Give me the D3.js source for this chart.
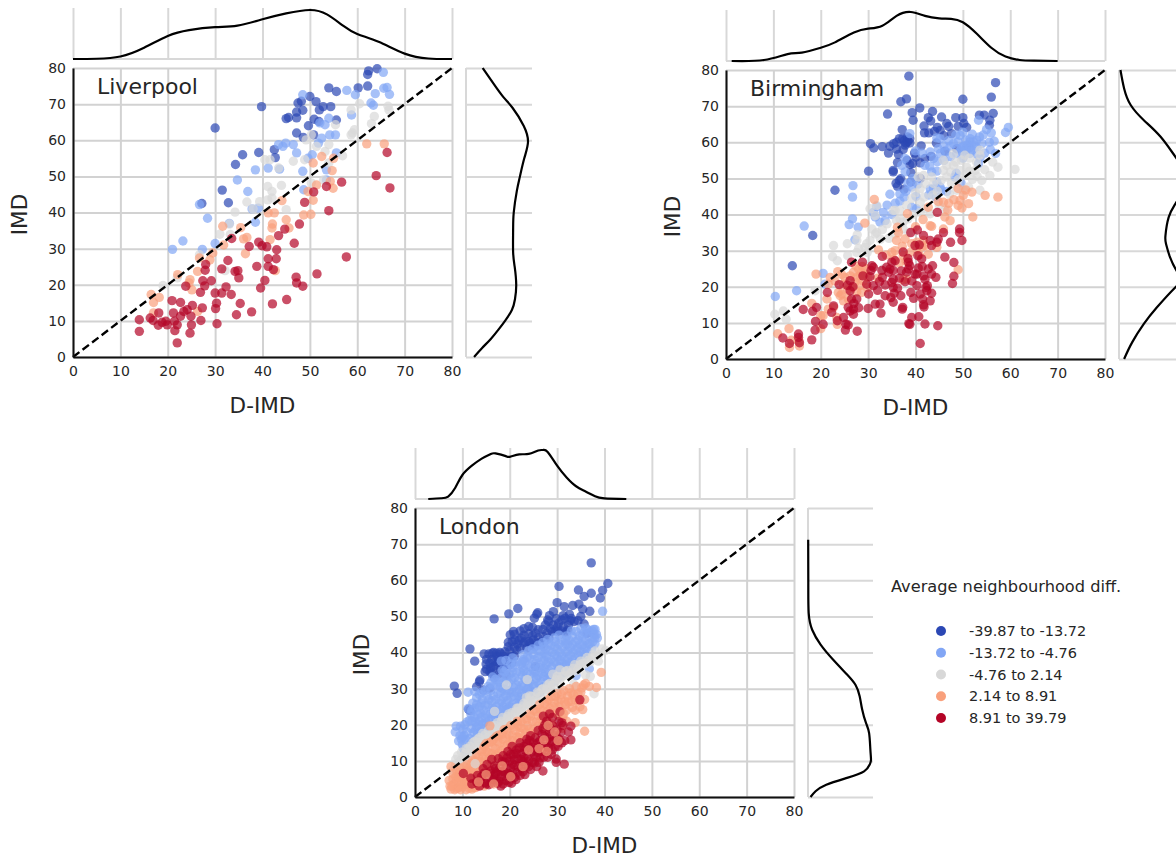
<!DOCTYPE html>
<html>
<head>
<meta charset="utf-8">
<script src="https://cdn.jsdelivr.net/npm/d3@7/dist/d3.min.js"></script>
<style>
html, body { margin: 0; padding: 0; background: #fff; overflow: hidden; }
text { font-family: "DejaVu Sans", sans-serif; fill: #262626; }
</style>
</head>
<body>
<svg width="1176" height="854"></svg>
<script>
const ticks = [0, 10, 20, 30, 40, 50, 60, 70, 80]
const classLabels = ['-39.87 to -13.72', '-13.72 to -4.76', '-4.76 to 2.14', '2.14 to 8.91', '8.91 to 39.79']
const classColors = ['#2b47b4', '#82a6f5', '#d8d8d8', '#f9a07c', '#b40426']

// [D-IMD, IMD]
const liverpoolBlue = [[30,63.4],[39.8,69.3],[27.2,42.5],[31.5,46.2],[32.8,42.7],[34.3,53.3],[35.8,56],[39.2,56.6],[42.7,55.2],[42.5,57.4],[45,66],[45.5,66.3],[47.2,66.2],[47.2,67.8],[48.5,68.3],[47.5,70.3],[48.2,70.8],[50,72.1],[51.3,70.7],[52,68.4],[52.8,69.3],[54.4,69.3],[54,74.5],[55.6,73.5],[50.9,65.8],[51.9,65.2],[55.6,65.6],[49.7,64],[47.2,62],[48.6,60.8],[50.8,61.5],[60.2,74.5],[62.2,75],[62.2,78.2],[62.4,79.2],[64.2,79.8]]
const liverpoolLight = [[21,29.8],[23.2,32.1],[27.3,29.8],[30,31.4],[26.7,42.2],[28.4,38.4],[38.5,37.3],[37.8,41],[39.1,41.2],[33,37],[34.7,49],[36.9,45.8],[38.5,51.8],[41.2,52.3],[43.6,52],[47.2,56.5],[46.5,58.8],[44.9,59.2],[43.4,58.8],[44.3,58.3],[48.5,72.6],[48.5,51.4],[48.7,46.3],[53.5,51.8],[53.5,49],[50.5,56],[49.6,55],[51.8,59.2],[52.5,60.6],[54.2,61.5],[55.4,61.5],[55.6,56.5],[54,66.1],[53.2,64.3],[52.1,64.8],[57.8,73.8],[59.6,72.6],[58.8,67],[62.9,70.3],[63.4,69.7],[63.8,72.9],[65.5,78.8],[65.6,74.4],[66.3,74.6],[66.8,72.7]]
const liverpoolGray = [[19,19.8],[22,21.9],[32.1,23.9],[31,34],[33,36.8],[33.2,33.9],[34.2,40.1],[36.7,42.9],[38,41],[39.4,43],[41.1,43.5],[42,44],[41.1,47.2],[42,45.8],[44,47.5],[45,40.8],[40.5,54.6],[41.6,54.6],[43.4,52.3],[46.5,54.2],[48.9,54.6],[50.3,48.2],[52.9,49],[54,53.7],[53.2,56.9],[54,58.8],[51.4,58.3],[50.3,61.5],[49.2,60.1],[55.4,64.3],[56.9,55.7],[58.7,68.4],[60.5,70.1],[59,62],[59.4,62.9],[58.7,61.5],[63,64.6],[63.6,66.6],[66.5,69.4],[66.7,68.4],[26.7,28.3]]
const liverpoolOrange = [[16.5,17.3],[17,15.1],[18.2,16.5],[17,12.2],[22.1,22.8],[24.7,21.4],[24.5,20.5],[25.1,18.6],[26.3,23.7],[26.7,27.4],[28.9,26.9],[29.5,28.8],[31.8,31],[31.6,36.2],[35.4,35.8],[36,32.7],[36.7,33.1],[36.4,28.6],[41.2,39.9],[42.5,39.9],[42.1,36.8],[42,35.7],[41.6,32.5],[42.7,23.9],[45,38],[45.6,35.7],[48.7,39.3],[50.2,39.5],[49.6,45.8],[50.7,43.4],[51.4,47.6],[54.3,48.6],[54.9,46.7],[54.7,51.6],[50.7,53.7],[52.5,55.5],[55,55],[62,59],[65.7,59],[44.1,43.3],[26.3,12.6]]
const liverpoolRed = [[14,10.3],[14,7.1],[16.3,10.8],[16.9,10.1],[18.1,12.2],[18,8.8],[18.8,9.6],[19.6,9.9],[19.9,8.9],[21.2,12.2],[21.4,9.9],[21.5,7.3],[22,8.9],[22,3.9],[22.7,11.3],[22.7,15.1],[20.9,15.6],[23.4,12.6],[24.1,13.1],[24.7,6.6],[24.9,11.3],[25,8.9],[25.2,14.3],[27,10.1],[27.3,13.6],[26.9,17.9],[27.4,21.1],[27.8,19.7],[27.9,24],[28,25.6],[29.2,21.1],[30,17.7],[30.3,14.9],[30.1,13.4],[30.4,9.2],[31.4,17.7],[31.4,24.4],[32.3,19.4],[32.7,26.7],[33.4,17.3],[33.5,32.8],[34.2,23.7],[34.8,23.9],[35,21.9],[35.3,14.8],[34.5,11.7],[37.2,30.6],[37.7,12.5],[38.8,25.1],[39.2,31.8],[39.6,19.1],[40.5,21.2],[39.9,30.8],[40.9,30.5],[41.2,25.1],[41.2,27.2],[42.1,14.7],[42.3,24.2],[42.9,27.2],[43,29.7],[43.4,33.6],[44.7,35.4],[45.1,15.9],[46.7,31.5],[47.1,22.1],[47.2,20.5],[48.5,19.6],[47.8,36.8],[48.9,42.8],[50.8,45.7],[51.5,23],[53.5,47.2],[54,40.5],[56.7,48.4],[57.7,27.7],[64,50.2],[66.3,56.6],[66.9,46.8],[23.8,19.6]]

const birminghamBlue = [[38.6,78.3],[56.9,76.5],[56,72.5],[50,71.9],[38.1,72],[36.9,71.2],[34.1,67.8],[40.9,69.5],[39.3,68.2],[39.5,66.1],[43.6,68.5],[42.7,66.8],[45.5,67],[41.8,64.5],[41.9,62.6],[43.2,65.9],[44.6,64.1],[45.2,63.3],[46.6,65.2],[47,64.4],[47.6,62.4],[48.5,66.8],[50,66.8],[50.2,65.2],[50.8,64.1],[53.5,67.5],[54.5,67.5],[56.4,68],[55.7,66.1],[55.6,64.7],[37.2,63.5],[36.6,61],[37.3,61],[38.3,61.5],[38,59.8],[38.8,59.8],[37.8,59.2],[30.5,59.6],[31.2,58.4],[33,58.8],[34.6,58.9],[34.3,57],[36,58.1],[36.4,56.6],[41.2,59],[40.1,55.9],[39.4,54.1],[38.8,53.8],[41,54.3],[42,55.5],[43.3,56.1],[46.2,57.5],[48.7,58.2],[30.1,52],[35.3,52.2],[35.3,51.8],[39,51.6],[36.9,49.9],[35.9,48.6],[36.6,49.4],[37.6,47],[23,46.7],[18.3,34.2],[14,25.8],[37.6,60.4],[38.4,60.2],[38.8,61],[37.4,58],[36,60],[35.4,59.6],[36.2,54.4],[38.2,55],[39.8,57],[42.8,62.6],[44,63],[46,61.8],[49,64.4],[44.4,59.8],[41,50],[39,49],[36.2,47.8]]
const birminghamLight = [[38.8,62.4],[59.6,64.1],[59,62.7],[56.6,60.3],[56.9,56.9],[53.3,66.1],[53.5,61.5],[55,63.5],[54.3,62],[52.9,60.6],[51.5,61],[49.4,61.9],[49,60.1],[48,59.6],[51.2,59.2],[51.9,57.8],[50.5,57.8],[51.5,56.9],[49.7,58.5],[48.7,56.9],[47.3,58.9],[45.2,61],[44.5,61.2],[44.8,58.2],[45.2,56.9],[43.1,57.3],[43.8,55.5],[42,53.6],[44.5,52],[43.4,51.8],[37.8,55.5],[37.1,53.6],[37.8,51.8],[39.2,47.6],[44.5,49],[45.2,47.6],[43.8,47.1],[43.1,47.1],[45.5,46.7],[48.3,50.4],[53.6,55.5],[53.3,54.1],[36.7,45.7],[40.1,45],[37.6,44.8],[36.7,43.7],[35.7,43.1],[39.2,42],[40.2,41.6],[31.8,42.2],[31.1,40.6],[31.5,39.3],[26.8,48],[26.7,44.8],[34.6,45.6],[26.7,38.8],[26,37.2],[27.9,36.5],[32.5,37.9],[33.6,38.3],[16.5,36.8],[27.2,33],[20.5,23.7],[14.9,18.9],[10.4,17.3],[20.9,20.7],[50.8,59.2],[51.4,58.5],[50.7,58],[50.1,58.9],[49.5,57.8],[51.5,60.1],[52.2,60.1],[46,59],[47,60.5],[48.5,62],[50,62.8],[50.6,60.6],[52.6,59],[52,62.2],[53,58.4],[54,59.6],[55.6,60],[55.8,58],[54.6,57],[53,56.6],[50,55.6],[47.4,56],[46,55],[44.6,54.6],[46.4,57.4],[43,53.4],[41.4,57],[40,57.6],[39.4,50],[38.4,48.6],[40.5,48.4],[42.8,45.4],[44.4,44.8],[46.6,46.4],[38,46.4],[34,42.6],[33.2,40.6],[35,40],[48.6,51.4],[49.6,48.8],[56,62.6]]
const birminghamGray = [[10.3,12.4],[12.1,13.3],[12.7,11],[22.7,31.4],[22.5,28.3],[23.5,27.2],[25.6,31.9],[25.7,28.6],[27.7,34.4],[27.6,32.8],[29.7,31.9],[29.3,30.9],[30.4,32.8],[29.8,29.5],[31.8,42.5],[31.5,34.6],[31.8,35],[35.3,41.1],[36,38.3],[37.4,37.9],[35.7,34.6],[36.7,38.8],[27.6,29.5],[18.8,18.9],[33.2,24.9],[30.4,41.6],[31.5,39.7],[61,52.5],[57.4,53.1],[55.7,50.8],[56.3,54.5],[53.6,46.7],[54,49.4],[52,49.7],[49.7,55],[50.8,53.1],[52.9,54.5],[52.6,52.2],[49.4,52.2],[48,53.6],[46.6,53.6],[45.9,52.2],[46.6,50.4],[47.4,51.8],[48.5,54.5],[41.7,50.8],[40.6,50.4],[42,48.5],[41,47.1],[45.9,55],[51.2,47.6],[50.1,46.7],[48.7,46.7],[46.2,41.1],[43.1,40.2],[42,41.6],[41,43.4],[39.2,44.4],[38.1,42.5],[36.7,41.1],[35.7,41.1],[53.6,57.8],[53.6,56.4],[40,46],[41.8,44.8],[43.6,45.4],[44.6,46.4],[43.8,48.6],[45.4,49.4],[47.6,48.6],[49,49.6],[50.4,50.8],[51.4,52],[53,50.6],[54.6,52.4],[47.2,45.6],[45,42.6],[38.4,38.8],[39.6,40],[41,40.6],[34,37.4],[33,35.8],[30.8,36],[28,30.6],[32.6,33.2],[34.4,33.4],[37.4,36],[38.6,35],[50.4,56.4],[48,56.8],[51.4,55.6],[43.4,50.4]]
const birminghamOrange = [[57.4,44.8],[54.7,45.3],[52.1,39.3],[51.9,46.2],[50.1,45.3],[51.2,43],[49,42.5],[49.4,43.9],[48.1,44.1],[47,43.1],[45.9,43.4],[44.8,43.6],[42.7,42],[43.1,36.9],[46.2,39.3],[47.3,38.3],[38.3,40.2],[31.3,44.2],[29.3,37.6],[43.4,36.7],[45.9,36],[36.2,36.5],[36,32.8],[37.8,33.2],[32.2,30.2],[35.7,30],[35,29.5],[37.4,28.6],[39.2,31.9],[40.3,32.3],[41.7,32.8],[42,31.4],[40.3,30.5],[42.7,29],[49,24.7],[44.5,30.9],[26.9,24],[28,24.9],[28.6,24],[27.6,22.6],[28.3,23],[27.2,21.2],[26.5,19.8],[28.3,20.3],[26.2,23],[25.1,22.6],[29.4,23.5],[32,22.4],[38.1,22.1],[37.4,21.9],[19,23.5],[23.6,24.2],[21.6,20.7],[22,22.6],[21.3,16.6],[23.7,18.4],[24.8,16.1],[24.1,17.5],[18.1,15.4],[20.5,12],[21.6,13.8],[22.7,14.3],[23.5,9.6],[23.4,11.5],[13.3,8.4],[10.9,7],[13.4,3.2],[15.5,3.6],[24.8,20.7],[24.4,18],[20,12],[27.4,25.8],[28.8,25.6],[29.6,25],[30,22.6],[29,21.6],[29.8,19.8],[28.6,18.4],[27.6,18.6],[25.6,19],[25.8,16.6],[23,21.6],[24.4,23.4],[33.8,28.8],[35.4,27.6],[36.6,26.6],[38,27],[38.8,29.4],[40.8,28.8],[41.4,31],[37.2,31.2],[36.4,35],[40,36.6],[41.6,38.6],[46.8,41.2],[49.8,41.8],[50.6,46.8],[49,47.2],[20,8.4],[13.8,5.2],[15.4,5]]
const birminghamRed = [[49.3,36],[49.3,35],[49.8,32.8],[47.4,32.3],[45.9,35],[44.8,33.2],[44.5,32.3],[43.4,31.4],[44.6,40.6],[40.4,35.7],[41.7,34.2],[43.1,32.8],[39.9,31.4],[40.5,28.6],[41.3,27.7],[46.2,28.2],[48.1,26.7],[48.1,22.9],[47.8,20.9],[43.6,25.8],[42.7,24.9],[43.4,23.5],[44.3,22.6],[41.7,23],[39.9,23.5],[38.8,25.8],[38.5,24.9],[38.1,24],[35.7,27.2],[35.3,24.5],[34.6,24.9],[34.3,24],[32.9,24.5],[30.8,25.8],[30.6,24.5],[28.9,23],[28.8,26.8],[26.5,26.8],[23.9,20.6],[29.7,20.7],[31.1,20.3],[32,19],[30.1,18],[33.6,20.5],[35,21.2],[35.3,19.8],[35.5,18.2],[33.6,17.5],[36.9,17.5],[35.3,15.7],[37.3,14.3],[37.2,13.8],[39,18.4],[40.3,20.3],[42.2,19.8],[42.5,20.3],[41,18],[39.6,16.8],[41.5,16.6],[43.1,16.1],[41.7,15],[41.8,14.4],[40.7,11.7],[39.2,11.5],[38.6,9.8],[38.8,9.6],[42,9.7],[44.7,9.2],[41,4.3],[30,14],[31.5,15.2],[32.5,15.2],[32.7,12.7],[26.5,16.6],[25.8,14.3],[26.2,13.3],[26.9,13.8],[26.9,12.4],[22.7,14.7],[22.3,12.9],[16.3,13.7],[18.3,13.2],[19.1,14.3],[18.9,10.4],[18.8,8],[18.1,5.3],[20.5,9.6],[23.5,10.6],[24.8,11.5],[25.3,9.6],[25.8,9.4],[25.2,8],[27.7,7.7],[15.3,6.9],[15.3,6],[15.5,4.5],[12,5.8],[13.4,4.3],[26.2,21.7],[26.2,18.9],[21.4,18.4],[31.1,25.4],[33.9,25.4],[35.3,22.1],[38.5,26.8],[40.3,23.5],[42.4,18.9],[25.6,20.4],[26.8,20],[27.6,16.6],[27,15.4],[28,14.2],[30.4,22.8],[32.4,21.4],[33,22.6],[34.8,17],[36.2,19.6],[37.8,21.4],[37,24.4],[36.6,22.4],[39.2,21.6],[40.6,25.2],[41.4,25.6],[42,22],[35,26.8],[33,28.4],[37.4,29.6],[39,35],[40.8,31.6],[38.4,27.8],[43.4,18.2]]

const londonBlue = [[37.2,64.8],[40.7,59.1],[39.6,57.2],[39.1,55.1],[37.2,56.4],[34.5,57.3],[35.7,55.5],[30.4,58.3],[30,53.8],[31.5,52.7],[33.3,53],[34.6,53.4],[35.4,52],[36.9,51.4],[32.6,50.6],[31.3,50.2],[29.2,51.3],[28.4,50.2],[25.9,51],[25.7,50.6],[25.2,49.5],[21.7,52.2],[19.8,50.7],[16.7,49.3],[24,47.2],[22.2,46],[20.8,45.8],[20.1,44.9],[19.7,42.8],[11.6,41],[12.6,37.6],[16.3,39.8],[17.2,39.8],[17.9,40],[15.1,38.1],[16.2,38.1],[16.9,37.5],[15.1,35.4],[15.8,34.7],[16.5,36.1],[18,35.2],[19.4,38.4],[20.4,38.9],[21.5,40.7],[21.1,43.5],[22.9,42.6],[24,43],[25,43.5],[26,44],[27.1,44.4],[26,46.3],[27.5,47.6],[28.2,48.6],[29.2,47.6],[30.3,48.1],[31,49],[31.7,49.5],[32.4,47.6],[31.3,47.2],[28.9,45.8],[27.8,45.3],[26.7,42.1],[25.3,41.6],[23.6,41.2],[22.2,41.2],[19.7,41.6],[18.7,38.9],[17.6,38],[18.7,36.1],[20,36.6],[24.3,42.6],[25.4,36.1],[35.7,47.9],[36.3,45.3],[13.7,32.4],[8.3,30.7],[8.9,28.7],[11.3,24.3],[11.6,23.9],[13.6,31.9],[13,30.5],[15.8,30.1],[14.4,29.6],[16.2,34.2],[14.8,34.7]]
const londonBlueDense = [[15.6,39.6],[16.6,40],[17.4,38.8],[15.8,37],[17,36.4],[17.8,37.2],[18.2,39.6],[19,40.2],[19.4,36.6],[20.5,37.2],[21,39],[19.2,33.8],[16.8,33],[17.6,34],[20,40.4],[21,41.4],[20.5,43],[21.6,42.4],[22.4,44],[23,44.8],[23,46.6],[24,45.2],[24.8,44.6],[25.4,45.4],[24.8,47],[26.4,42.8],[27.4,43.2],[28.3,44],[28.6,46.6],[29.6,46],[30,47],[30.2,45.8],[31,46],[31.8,45.6],[32.3,46.2],[32.8,48.8],[33.6,48.6],[29.8,49.4],[28,49],[27,46.4],[25.8,42.6],[24.6,42],[23.2,43],[22,43.4],[21,45],[18.6,36.8],[16,35.8],[15,36.8],[14.6,39.6],[34.4,48.8],[35,50],[33,49.4]]
const londonLight = [[8.7,19.6],[8.5,18],[9.5,17],[10.1,18.7],[9.2,15.5],[10,14.5],[10.8,15.8],[10.5,12.5],[11.2,13.6],[11.5,16.2],[11.9,19],[12,21],[11.2,24.5],[11.8,23],[12.6,24.5],[12.5,22],[13,19.5],[13.2,17.4],[12.4,17.8],[13.6,21],[13.8,23.3],[14,26],[14.2,27],[13,27.5],[14.5,24],[14.9,21.8],[14.7,19],[15.5,19.8],[15.8,23],[15.4,25.5],[15.2,28],[16,29.5],[16.2,26.6],[16.6,24.3],[17,22],[16.9,20.4],[17.6,23.5],[17.8,26],[17.5,28.6],[17.2,31],[17.8,31.8],[18.2,33],[18.5,30],[18.7,27.5],[18.6,25],[18.9,22.8],[19.4,24.3],[19.6,26.7],[19.9,29.4],[19.8,31.6],[20,34],[19.3,35.5],[20.6,35.8],[21,33],[20.8,30.4],[21,28],[20.6,25.6],[21.4,26],[22,27.6],[22,29.8],[21.8,32],[22.2,34.6],[22.4,36.8],[21.5,37.5],[23.2,37.6],[23,35],[23.2,32.7],[23,30.5],[23.3,28.4],[24,27.5],[24.4,29.5],[24.2,31.8],[24.3,34],[24.5,36],[24.2,38.4],[25,39.5],[25.5,37],[25.4,34.6],[25.6,32.8],[25.2,30.5],[25.8,28.6],[26.5,30],[26.6,32],[26.7,34.3],[26.5,36.5],[26.8,38.8],[26.4,40.4],[27.6,41],[27.8,39],[27.7,36.7],[27.6,34.5],[27.9,32.7],[28.5,31.5],[28.6,33.6],[28.9,36],[28.7,38],[29,40],[28.7,42],[29.6,43],[30,41],[30,38.8],[29.9,36.8],[30,34.8],[30.2,33],[31,35],[31.2,37],[31,39],[31.2,41.4],[31,43.5],[32,44.6],[32.2,42.3],[32.3,40.3],[32.2,38.2],[32,36.5],[33,35.8],[33.3,38],[33.4,40],[33.3,42.2],[33.2,44.5],[34,45.8],[34.4,43.5],[34.3,41.3],[34.5,39.2],[34.4,37.2],[35,46.6],[35.4,44.6],[35.4,42.2],[35.6,40],[35.3,38],[36.5,46.3],[36.7,44.4],[36.5,42.4],[36.4,40.4],[37.4,46],[37.8,45],[37.5,43],[37.3,41],[37.9,44],[38.3,45],[36.8,35.5],[39.6,51.4],[16.5,23],[15,17.5],[18.2,37.6],[19.2,37.8],[20.6,38.5],[22.8,39.4],[24,40.5],[26,42],[28,43.6],[30.4,44.8],[33,46],[11.2,29]]
const londonLightDense = [[9.8,16],[10.4,17],[11,18],[10.2,13.4],[11.8,14.8],[12.4,16],[12.8,18.6],[13.4,20],[12.8,20.8],[12,24],[13.2,22.8],[14,18.2],[14.4,20.2],[13.6,25],[14.8,25.4],[15,23],[15.6,21],[15.8,18.6],[16.2,21.8],[16.3,24.6],[15.6,27],[16.6,28],[14.8,29.4],[15.4,30.6],[16.6,30.8],[17,27],[17.2,25],[17.2,23],[17.9,21.6],[18.2,24],[18.2,26.6],[18.1,29],[18,30.4],[18.8,31.8],[18.8,34.6],[19.2,33],[19.2,29.6],[19.2,28],[19.1,25.6],[20,25],[20.2,27.6],[20.4,29],[20.4,32.6],[20.5,34.6],[21.2,36.6],[21.4,34.4],[21.4,31],[21.4,29],[22,25.6],[22.6,26.8],[22.5,28.6],[22.6,31],[22.7,33.6],[22.8,35.8],[22.9,38],[23.7,38.8],[23.7,36.6],[23.6,34.4],[23.8,32],[23.8,30],[24.8,28.4],[24.9,31],[25,33.4],[25,35.2],[25.2,38],[25.8,40.6],[26,38.6],[26.2,35.8],[26,33.6],[26.1,31.4],[26.4,29],[27.2,30.6],[27.2,33.4],[27.2,35.6],[27.2,37.8],[27.4,39.8],[27.2,41.6],[28.2,42.4],[28.3,40.4],[28.2,37.4],[28.2,35.2],[28.3,33],[29.2,32],[29.4,34.4],[29.4,37.4],[29.5,39.4],[29.5,41.6],[30.4,42.4],[30.6,40],[30.6,37.8],[30.5,36],[30.6,33.8],[31.5,34.4],[31.7,36.4],[31.6,38.2],[31.8,40.2],[31.8,42.4],[32.6,43.4],[32.8,41.4],[32.8,39.2],[32.7,37.2],[33.8,36.6],[33.9,38.6],[33.9,40.8],[33.9,43],[34.7,44.6],[34.9,42.2],[34.9,40.2],[34.9,38.2],[35.7,45.6],[36,43.4],[35.9,41.4],[35.9,39.4],[36.9,42.4],[36.9,45.6],[37.7,46.4],[38.5,44],[38,42.4],[13,25.6],[12.2,26],[11.5,21.2],[10.5,20],[9.6,19.6],[24.8,41],[29.4,44],[31.8,43.4],[22.6,37.4],[20.2,36.8],[27,42.8],[36,46.8],[38,46.4],[18.4,35],[17,32.6],[16,31.6],[14,29],[13.6,28.4],[12.6,29.2],[16.4,33.2],[34,33.6],[32.4,35],[25,29],[23.6,29.6],[22,26.8],[20.6,24.6],[19,24],[17.6,21.6],[15,20.6],[14,22],[11,20.8],[10,16.6]]
const londonGray = [[8.5,8.6],[9.2,9.5],[9,11.4],[10,10.8],[10.6,12],[11,10.4],[11.2,13.4],[12,12.6],[12.2,15],[13,14],[13.2,16],[14,15.2],[14.3,17.6],[15,16],[15.5,18.4],[16,17.2],[16.2,19.6],[17,18.4],[17.4,20.6],[18,19.4],[18.5,22],[19,20.5],[19.8,23],[20.2,21.6],[21,22.6],[21.5,24.6],[22,23.6],[22.8,25.2],[23.4,24.8],[24,26.6],[24.6,27.8],[25.5,27],[26,28.6],[26.8,29.8],[27.5,29],[28,31],[28.6,30.2],[29.5,31.8],[30,33.4],[30.6,32.4],[31.5,33.6],[32.2,35],[33,34.4],[33.7,36.6],[34.5,35.6],[35,37.6],[35.8,36.8],[36.3,38.6],[37,37.4],[37.6,39.4],[38,40.4],[38.8,39.4],[39.5,41],[40.2,40.6],[38.7,37.6],[37,33.4],[36,33.8],[37.8,28.6],[16.8,23.7],[19.3,31],[23.7,32.5],[29.1,34],[30.6,35.2],[33.5,31.2],[24.5,25],[23.5,27.5]]
const londonGrayDense = [[8,7.4],[8.6,10.4],[9.6,10],[9.8,12.4],[10.4,10],[10.8,13.4],[11.6,11.6],[11.6,14],[12.6,13.4],[12.6,15.4],[13.5,15],[13.6,16.4],[14.6,15.4],[14.8,17.2],[15.6,16.6],[16.4,17.8],[16.8,19.8],[17.6,19],[18.2,21],[18.6,20],[19.4,21.6],[19.6,22.4],[20.5,23.4],[21.2,23.6],[21.8,24.6],[22.4,24],[23,26],[23.8,25.8],[24.2,28],[25,26.6],[25.8,29],[26.4,27.8],[27,30],[27.8,29.8],[28.4,31.4],[29,31],[29.8,32.6],[31,33.4],[31.8,34.8],[32.6,33.8],[33.4,35.6],[34.2,35],[34.8,36.6],[35.4,37],[36.6,37.8],[37.4,38.6]]
const londonOrange = [[7.6,8.4],[7.2,4.6],[7.6,2.2],[8.2,3.6],[8.6,5.6],[8.8,2.4],[9.2,4],[9.4,6.8],[9.6,8],[10,2.8],[10.2,5],[10.6,3.4],[10.8,7.2],[11,9],[11.4,2.4],[11.6,6],[12,4],[12.3,8],[12.6,10],[12.9,5.6],[13,12],[13.4,7.8],[13.8,9.8],[14,12.6],[14.2,4.8],[14.6,14],[14.8,10.4],[15,7.4],[15.4,12.4],[15.7,15],[16,9.6],[16.4,13.8],[16.6,16],[15.8,19.7],[17,11.6],[17.4,15.4],[17.8,17.2],[18.2,13],[18.6,16],[18.8,18.6],[19.2,11.5],[19.6,14.6],[19.8,17.2],[20.2,19.8],[20.6,15.6],[20.9,12.8],[21.2,18.4],[21.6,21],[22,16.4],[22.4,19.2],[22.6,13.8],[23,21.6],[23.4,17.8],[23.8,19.8],[24.2,23],[24.6,15],[24.8,21],[25.2,17.6],[25.6,23.6],[26,19.6],[26.3,25.6],[26.6,21.4],[27,24],[27.4,18.4],[27.8,26.4],[28,22.2],[28.5,24.6],[28.8,27.8],[29,20],[29.4,26],[29.8,23.2],[30,28.6],[30.4,25],[30.8,27],[31.2,22],[31.4,29.4],[31.8,25.6],[32.2,28],[32.6,30],[33,26.4],[33.4,28.4],[33.8,24],[34,30.6],[34.5,26.6],[35,29],[35.6,31],[35.4,24.2],[35.8,27],[36,31.4],[36.8,30.6],[38.3,30.3],[39.3,34.5],[35.8,18.2],[31,19],[32,21],[33.8,20.6]]
const londonOrangeDense = [[8,5],[7.8,3],[8.4,2],[8.8,4.6],[9.2,2.6],[9.8,3.6],[9.8,5.6],[10.4,6.2],[10.4,8.4],[11,4],[11.2,5.4],[11.4,8],[11.8,9.2],[12,7],[12.4,2.6],[12.6,4.8],[12.2,10.2],[13.2,9],[13.4,11],[13.8,3.2],[13.8,6.4],[14.2,8.2],[14.4,11.2],[14.4,13.2],[15,12.6],[15,14.8],[15.6,8.4],[15.6,10.6],[16.2,12],[16.2,15.4],[16.6,11],[17,13.4],[17.2,16.8],[17.4,9.6],[17.8,12.2],[17.9,14.8],[18.4,10.6],[18.4,17.4],[18.9,14],[19.2,16.4],[19.4,18.8],[19.8,12.8],[20.2,14.6],[20.5,17],[20.9,19.4],[21.2,14.6],[21.6,16.6],[21.8,19.8],[22.2,17.6],[22.4,21],[22.8,15.6],[23,18.8],[23.6,21.4],[24,16.8],[24.2,18.8],[24.4,22.4],[25,18.6],[25,24],[25.6,20.8],[26,22.6],[26.4,24.4],[27,19.6],[27,21.8],[27.4,25.8],[28,23.8],[28.2,27],[28.6,20.6],[29,23.2],[29.2,25],[29.6,27.8],[30.2,22.6],[30.2,26.4],[30.8,24],[31,28.4],[31.6,26.4],[32,24],[32.4,26.4],[33,28.8],[33.2,24.8],[33.8,27],[34.4,28.6],[34.8,25],[35.2,30.2],[7.4,3],[8,6.6],[8.8,7.2],[9.6,2],[10.6,4.6],[10.8,2],[11.4,3.4],[12,2.2],[11.2,6.6],[12.6,6.6],[12.8,2.6],[13.2,3.4],[9.2,5.4],[14.6,3],[14.4,5.6]]
const londonRed = [[10.2,6.5],[11.8,5.2],[12,3.6],[13,4.2],[13.2,6],[13.6,3],[14,5.6],[14.4,7.8],[14.8,4],[15.2,9],[15.4,5.8],[15.6,3.4],[16,7.2],[16.2,10.4],[16.5,4.8],[16.8,8.6],[17,6.4],[17.4,3.8],[17.6,10.6],[17.9,8],[18.1,3],[18.2,5.6],[18.6,11.4],[18.8,7],[19,9.6],[19.2,4.6],[19.6,12.6],[19.8,6.4],[20,10],[20.2,8],[20.4,3.8],[20.5,14],[20.8,11.8],[21,5.4],[21,8.8],[21.4,13],[21.6,6.8],[21.8,10.6],[22.2,15],[22.4,8],[22.6,12],[22.8,9.8],[23,14],[23.2,6.2],[23.6,16],[23.7,11],[24,8.4],[24.2,13.6],[24.4,17],[24.8,9.6],[25,15],[25.2,11.8],[25.7,8.4],[25.8,13.4],[26,18.4],[26.4,10.8],[26.4,15.6],[26.8,12.6],[27,7.2],[27,19],[27.4,16.8],[27.6,14],[27.8,21],[28,11],[28.4,18],[28.6,15.2],[29,13],[29.2,19.6],[29.8,10.5],[29.8,9.6],[30,16.4],[30.2,14],[30.4,21],[30.8,17.8],[31.2,19.8],[31.5,9.1],[31.6,15.6],[32.4,18],[32.9,19.6],[32.9,15.8],[27.1,22.4],[28.4,23],[34.8,26.9],[29,22],[30.6,23.6]]
const londonRedDense = [[13.8,4.4],[14.6,6.6],[15,3.6],[15.8,6.6],[16.2,3.8],[16.6,6],[17,8],[17.2,5],[17.4,7.2],[17.8,4.4],[18.2,7],[18.4,9.8],[18.6,3.6],[19,5.8],[19.2,8],[19.4,10.8],[19.8,4],[20,6],[20.2,11.8],[20.6,9.2],[20.6,6.8],[21,10.4],[21.3,4.8],[21.4,12],[21.8,8.4],[22,13.6],[22.2,6],[22.4,10.4],[22.8,7],[23,11],[23.2,13],[23.4,8.8],[23.6,14.8],[24,10],[24.2,15.6],[24.4,7.6],[24.6,12.4],[25,13.8],[25.2,9.4],[25.4,16.4],[25.6,11],[26,12.4],[26,15],[26.2,9.6],[26.6,14],[26.8,17.4],[27.2,11],[27.4,13],[27.8,15.6],[28.2,13.6],[28.4,16.6],[28.8,11.8],[29,15.4],[29.4,17],[29.6,14],[30,18.6],[30.4,16],[31,15],[31,20.6],[28.6,19],[27.4,20]]
// orange and grey dots that sit over the red ones
const londonOrangeTop = [[13.4,4.2],[15,6.2],[16.6,3.6],[18.4,8.6],[20.2,5.6],[22.8,8.4],[24,13],[26.2,13.4],[27.2,15.8],[27.8,12.6],[30.2,15.6],[29.5,18],[28.1,19.8],[31.4,23]]
const londonGrayTop = [[12.7,9.2]]

// marginal curves: [value, relative density]
const liverpoolTopKde = [[0,0],[5,0.005],[10,0.05],[15,0.23],[20,0.47],[24.5,0.59],[30,0.65],[34.7,0.68],[40,0.81],[45,0.93],[50,1],[53.6,0.91],[57,0.68],[60,0.51],[64.5,0.35],[70,0.11],[75,0.01],[80,0]]
const liverpoolRightKde = [[0,0.13],[2.5,0.26],[5,0.4],[7.5,0.52],[10,0.63],[13,0.74],[16,0.79],[20,0.81],[25,0.785],[29,0.76],[35,0.76],[40,0.77],[46,0.82],[50,0.87],[55,0.94],[59.5,1],[64,0.93],[69,0.75],[72,0.6],[76,0.43],[80,0.27]]
const birminghamTopKde = [[1.2,0],[8,0.02],[13,0.14],[16,0.17],[20,0.27],[23,0.38],[27,0.58],[30,0.66],[33,0.72],[36,0.92],[39,1],[42,0.92],[45,0.87],[47.5,0.86],[50,0.79],[53,0.55],[56,0.27],[59,0.09],[62,0.02],[65,0.007],[70,0]]
const birminghamRightKde = [[0,0.07],[4.6,0.18],[9.7,0.34],[14.3,0.52],[19.8,0.77],[22,0.86],[24.4,0.79],[28.1,0.7],[31.8,0.645],[34.1,0.636],[39.2,0.68],[42.9,0.77],[46,0.88],[49,1],[52,0.93],[55.5,0.79],[61.5,0.57],[66.1,0.34],[70.3,0.16],[74.9,0.07],[80,0.02]]
const londonTopKde = [[2.8,0],[5.5,0.015],[7,0.05],[8.5,0.23],[10,0.49],[12,0.68],[14,0.82],[16,0.92],[17,0.93],[19,0.88],[20,0.86],[22,0.91],[24,0.92],[26,0.99],[27,1],[28,0.96],[30,0.68],[32,0.44],[34,0.26],[36,0.155],[38,0.056],[40,0.014],[44.6,0]]
const londonRightKde = [[0,0.04],[1.6,0.12],[3.4,0.29],[5.3,0.62],[7.1,0.89],[9,0.98],[10.3,1],[13.1,0.99],[17.7,0.97],[20.5,0.92],[24.2,0.86],[27.9,0.82],[31,0.755],[33.9,0.62],[38,0.4],[42.2,0.2],[46.3,0.066],[50.9,0.011],[59.2,0.005],[71.2,0.003]]

const cities = [
   {name: 'Liverpool', left: 73, top: 68, series: [[0, liverpoolBlue], [1, liverpoolLight], [2, liverpoolGray], [3, liverpoolOrange], [4, liverpoolRed]],
      topKde: liverpoolTopKde, rightKde: liverpoolRightKde, topY: 8, topPeak: 10, rightX: 466, rightPeak: 528, rightEnd: 532},
   {name: 'Birmingham', left: 726, top: 70, series: [[0, birminghamBlue], [1, birminghamLight], [2, birminghamGray], [3, birminghamOrange], [4, birminghamRed]],
      topKde: birminghamTopKde, rightKde: birminghamRightKde, topY: 10, topPeak: 12, rightX: 1119, rightPeak: 1192, rightEnd: 1185},
   {name: 'London', left: 415, top: 508, series: [[0, londonBlue], [0, londonBlueDense], [1, londonLight], [1, londonLightDense], [2, londonGray], [2, londonGrayDense], [3, londonOrange], [3, londonOrangeDense], [4, londonRed], [4, londonRedDense], [3, londonOrangeTop], [2, londonGrayTop]],
      topKde: londonTopKde, rightKde: londonRightKde, topY: 448, topPeak: 450, rightX: 808, rightPeak: 871, rightEnd: 873}
]

const svg = d3.select('svg')
const graphWidth = 379
const graphHeight = 289
const topGap = 9

const drawChart = city => {
   const graph = svg.append('g').attr('transform', `translate(${city.left},${city.top})`)
   const x = d3.scaleLinear().domain([0, 80]).range([0, graphWidth])
   const y = d3.scaleLinear().domain([0, 80]).range([graphHeight, 0])

   // grid
   const gridX = graph.append('g').attr('transform', `translate(0,${graphHeight})`)
      .call(d3.axisBottom(x).tickValues(ticks).tickSize(-graphHeight).tickFormat(''))
   const gridY = graph.append('g')
      .call(d3.axisLeft(y).tickValues(ticks).tickSize(-graphWidth).tickFormat(''))
   gridX.selectAll('.domain').remove()
   gridY.selectAll('.domain').remove()
   graph.selectAll('.tick line').attr('stroke', '#d2d2d2').attr('stroke-width', 2)

   // points
   city.series.forEach(([cls, points]) => {
      graph.append('g').selectAll('circle')
         .data(points)
         .enter()
         .append('circle')
         .attr('cx', d => x(d[0]))
         .attr('cy', d => y(d[1]))
         .attr('r', 4.7)
         .attr('fill', classColors[cls])
         .attr('fill-opacity', 0.7)
   })

   // 1:1 line
   graph.append('path')
      .attr('d', d3.line().x(d => x(d)).y(d => y(d))([0, 80]))
      .attr('fill', 'none')
      .attr('stroke', '#000')
      .attr('stroke-width', 2.4)
      .attr('stroke-dasharray', '8,4')

   // axes
   const xAxis = graph.append('g').attr('transform', `translate(0,${graphHeight})`)
      .call(d3.axisBottom(x).tickValues(ticks).tickSize(0).tickPadding(9))
   const yAxis = graph.append('g')
      .call(d3.axisLeft(y).tickValues(ticks).tickSize(0).tickPadding(7))
   xAxis.selectAll('.domain').attr('stroke', '#111').attr('stroke-width', 2)
   yAxis.selectAll('.domain').attr('stroke', '#111').attr('stroke-width', 2)
   graph.selectAll('g > .tick text').attr('font-size', 14).attr('font-family', '"DejaVu Sans", sans-serif')

   graph.append('text')
      .attr('x', graphWidth / 2).attr('y', graphHeight + 56)
      .attr('text-anchor', 'middle').attr('font-size', 21.5)
      .text('D-IMD')
   graph.append('text')
      .attr('transform', `translate(-46,${graphHeight / 2 + 2}) rotate(-90)`)
      .attr('text-anchor', 'middle').attr('font-size', 21.5)
      .text('IMD')
   graph.append('text')
      .attr('x', 24).attr('y', 25.5)
      .attr('font-size', 22)
      .text(city.name)

   // top marginal
   const topBase = city.top - topGap
   const topHeight = topBase - city.topY
   const topPanel = svg.append('g').attr('transform', `translate(${city.left},${city.topY})`)
   const dTop = d3.scaleLinear().domain([0, 1]).range([topBase - city.topY, city.topPeak - city.topY])
   const topGrid = topPanel.append('g').attr('transform', `translate(0,${topHeight})`)
      .call(d3.axisBottom(x).tickValues(ticks).tickSize(-topHeight).tickFormat(''))
   topGrid.select('.domain').remove()
   topGrid.selectAll('.tick line').attr('stroke', '#d8d8d8').attr('stroke-width', 2)
   topPanel.append('line').attr('x1', 0).attr('x2', graphWidth).attr('y1', topHeight).attr('y2', topHeight)
      .attr('stroke', '#d8d8d8').attr('stroke-width', 2)
   topPanel.append('path')
      .attr('d', d3.line().x(d => x(d[0])).y(d => dTop(d[1])).curve(d3.curveNatural)(city.topKde))
      .attr('fill', 'none').attr('stroke', '#000').attr('stroke-width', 2.2)

   // right marginal
   const rightWidth = city.rightEnd - city.rightX
   const rightPanel = svg.append('g').attr('transform', `translate(${city.rightX},${city.top})`)
   const dRight = d3.scaleLinear().domain([0, 1]).range([0, city.rightPeak - city.rightX])
   const rightGrid = rightPanel.append('g')
      .call(d3.axisLeft(y).tickValues(ticks).tickSize(-rightWidth).tickFormat(''))
   rightGrid.select('.domain').remove()
   rightGrid.selectAll('.tick line').attr('stroke', '#d8d8d8').attr('stroke-width', 2)
   rightPanel.append('line').attr('x1', 0).attr('x2', 0).attr('y1', 0).attr('y2', graphHeight)
      .attr('stroke', '#d8d8d8').attr('stroke-width', 2)
   rightPanel.append('path')
      .attr('d', d3.line().x(d => dRight(d[1])).y(d => y(d[0])).curve(d3.curveNatural)(city.rightKde))
      .attr('fill', 'none').attr('stroke', '#000').attr('stroke-width', 2.2)
}

cities.forEach(drawChart)

// legend
const legend = svg.append('g')
legend.append('text').attr('x', 891).attr('y', 592).attr('font-size', 16.2).text('Average neighbourhood diff.')
const legendY = d3.scalePoint().domain(classLabels).range([631, 718])
legend.selectAll('circle')
   .data(classLabels)
   .enter()
   .append('circle')
   .attr('cx', 941)
   .attr('cy', d => legendY(d))
   .attr('r', 5)
   .attr('fill', (d, i) => classColors[i])
legend.selectAll('.item')
   .data(classLabels)
   .enter()
   .append('text')
   .attr('class', 'item')
   .attr('x', 969)
   .attr('y', d => legendY(d) + 5)
   .attr('font-size', 14.5)
   .text(d => d)
</script>
</body>
</html>
